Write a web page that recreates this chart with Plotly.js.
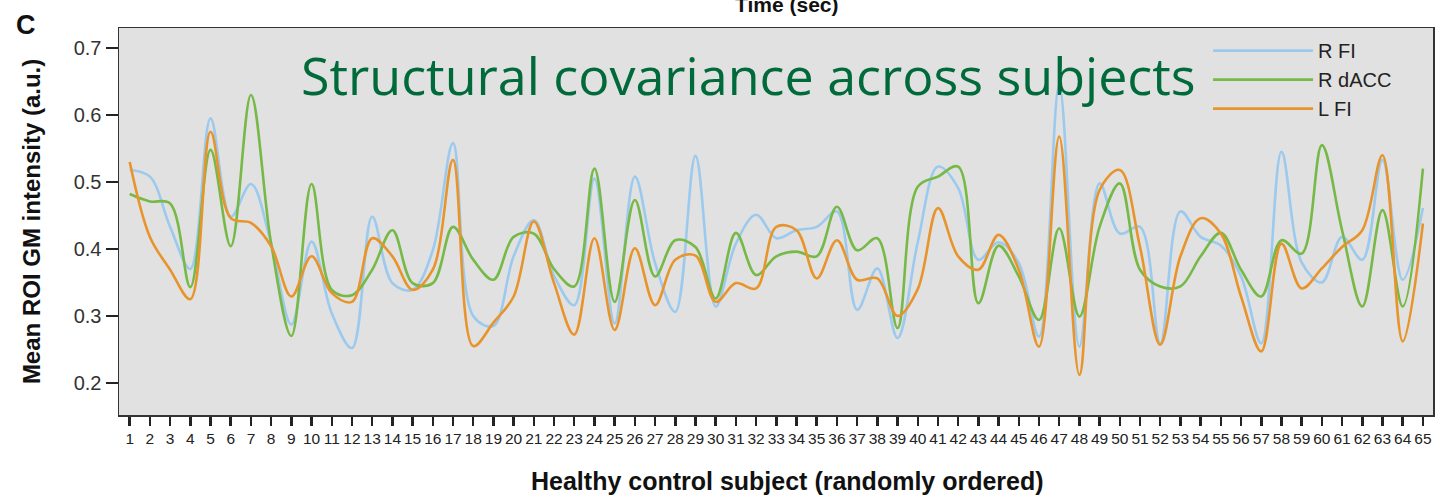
<!DOCTYPE html>
<html>
<head>
<meta charset="utf-8">
<script src="https://cdn.plot.ly/plotly-3.0.1.min.js"></script>
<style>html,body{margin:0;padding:0;background:#fff;}#chart{width:1441px;height:496px;}</style>
</head>
<body>
<div id="chart"></div>
<script>
const subjects = Array.from({length: 65}, (_, i) => i + 1);
const tickLabels = subjects.map(String);
const seriesNames = ["R FI", "R dACC", "L FI"];
const rFI = [0.518,0.508,0.433,0.37,0.595,0.448,0.497,0.408,0.287,0.411,
  0.304,0.252,0.448,0.349,0.339,0.398,0.558,0.30,0.285,0.389,
  0.443,0.36,0.316,0.505,0.289,0.508,0.379,0.306,0.539,0.314,
  0.408,0.451,0.416,0.428,0.433,0.456,0.309,0.371,0.267,0.41,
  0.523,0.491,0.384,0.41,0.379,0.269,0.645,0.254,0.498,0.423,
  0.433,0.259,0.456,0.418,0.405,0.359,0.259,0.545,0.38,0.35,
  0.418,0.384,0.533,0.354,0.461];
const rdACC = [0.482,0.471,0.468,0.343,0.548,0.404,0.630,0.408,0.27,0.497,
  0.339,0.331,0.369,0.428,0.349,0.349,0.433,0.384,0.354,0.418,
  0.423,0.37,0.344,0.520,0.321,0.473,0.359,0.413,0.403,0.326,
  0.424,0.361,0.389,0.396,0.389,0.463,0.398,0.416,0.282,0.493,
  0.508,0.523,0.319,0.405,0.359,0.294,0.431,0.299,0.433,0.498,
  0.369,0.344,0.344,0.389,0.424,0.369,0.329,0.413,0.393,0.555,
  0.428,0.314,0.458,0.314,0.520];
const lFI = [0.530,0.418,0.369,0.325,0.575,0.446,0.439,0.404,0.329,0.389,
  0.334,0.321,0.416,0.389,0.339,0.369,0.533,0.255,0.29,0.329,
  0.441,0.349,0.272,0.416,0.279,0.401,0.316,0.384,0.39,0.321,
  0.349,0.341,0.433,0.428,0.356,0.413,0.354,0.356,0.30,0.34,
  0.461,0.389,0.369,0.421,0.369,0.254,0.568,0.212,0.488,0.518,
  0.403,0.257,0.389,0.446,0.423,0.329,0.247,0.408,0.341,0.371,
  0.403,0.428,0.540,0.262,0.438];
const yTicks = [0.2, 0.3, 0.4, 0.5, 0.6, 0.7];
const yTickLabels = ["0.2", "0.3", "0.4", "0.5", "0.6", "0.7"];
const colors = ["#9ccaee", "#76b946", "#e8942c"];
const values = [rFI, rdACC, lFI];

const traces = values.map((v, k) => ({
  x: subjects, y: v, type: "scatter", mode: "lines", name: seriesNames[k],
  line: {color: colors[k], width: 2.6, shape: "spline", smoothing: 1}
}));

const sans = "Liberation Sans, Arial, sans-serif";
const layout = {
  width: 1441, height: 496,
  margin: {l: 119, r: 8, t: 28, b: 81},
  paper_bgcolor: "#ffffff", plot_bgcolor: "#e1e1e1",
  showlegend: true,
  legend: {x: 0.8288, xanchor: "left", y: 0.992, yanchor: "top", bgcolor: "rgba(0,0,0,0)",
    font: {family: sans, size: 20, color: "#222"},
    itemwidth: 100, tracegroupgap: 0},
  xaxis: {range: [0.47, 65.5], tickmode: "array", tickvals: subjects, ticktext: tickLabels,
    ticks: "outside", ticklen: 9, tickwidth: 2.5, tickcolor: "#222",
    tickfont: {family: sans, size: 15.5, color: "#222"},
    showgrid: false, zeroline: false, showline: true, linecolor: "#333", linewidth: 1.5, mirror: true},
  yaxis: {range: [0.152, 0.73], tickmode: "array", tickvals: yTicks, ticktext: yTickLabels,
    ticks: "outside", ticklen: 12, tickwidth: 2.5, tickcolor: "#222",
    tickfont: {family: sans, size: 20, color: "#333"},
    showgrid: false, zeroline: false, showline: true, linecolor: "#333", linewidth: 1.5, mirror: true},
  annotations: [
    {xref: "paper", yref: "paper", x: 0.509, y: -0.1705, xanchor: "center", yanchor: "middle", showarrow: false,
     text: "<b>Healthy control subject (randomly ordered)</b>", font: {family: sans, size: 25, color: "#111"}},
    {xref: "paper", yref: "paper", x: -0.0665, y: 0.5, xanchor: "center", yanchor: "middle", showarrow: false,
     textangle: -90, text: "<b>Mean ROI GM intensity (a.u.)</b>", font: {family: sans, size: 24, color: "#111"}},
    {xref: "paper", yref: "paper", x: 0.137, y: 0.879, xanchor: "left", yanchor: "middle", showarrow: false,
     text: "Structural covariance across subjects",
     font: {family: "Open Sans, Noto Sans, sans-serif", size: 52, color: "#006a3b"}},
    {xref: "paper", yref: "paper", x: -0.0705, y: 1.008, xanchor: "center", yanchor: "middle", showarrow: false,
     text: "<b>C</b>", font: {family: sans, size: 27, color: "#111"}},
    {xref: "paper", yref: "paper", x: 0.508, y: 1.062, xanchor: "center", yanchor: "middle", showarrow: false,
     text: "<b>Time (sec)</b>", font: {family: sans, size: 21, color: "#111"}}
  ]
};
Plotly.newPlot("chart", traces, layout, {displayModeBar: false, staticPlot: true});
</script>
</body>
</html>
